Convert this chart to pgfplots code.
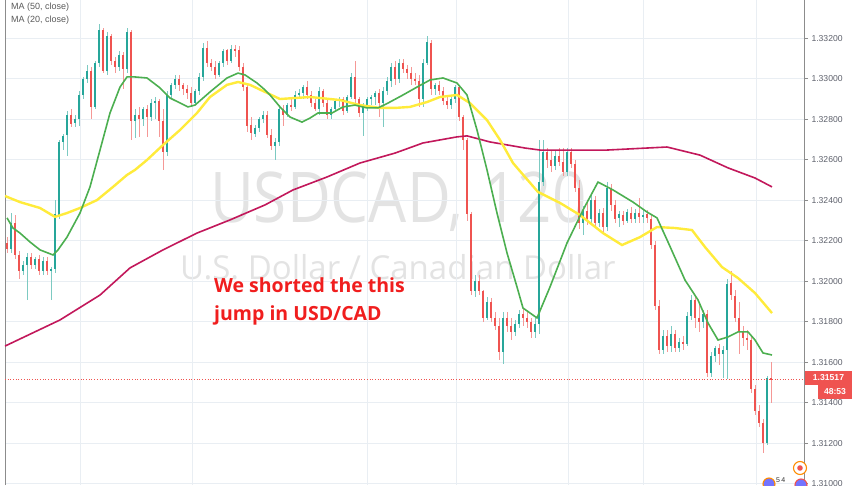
\documentclass[border=0pt]{standalone}
\usepackage{fontspec}
\setmainfont{Liberation Sans}
\newfontfamily\wmfont{Open Sans}
\usepackage{pgfplots}
\usepackage{pgfplotstable}
\pgfplotsset{compat=1.18}

\definecolor{upc}{HTML}{26A69A}
\definecolor{dnc}{HTML}{EF5350}
\definecolor{maA}{HTML}{4CAF50}
\definecolor{maB}{HTML}{FFEB3B}
\definecolor{maC}{HTML}{C2185B}
\definecolor{gridc}{HTML}{E9EEF3}
\definecolor{labc}{HTML}{5D606B}
\definecolor{annc}{HTML}{F01E1E}

% 2h candles: index, open, high, low, close
\pgfplotstableread{
x o h l c
0 1.3219 1.3222 1.3214 1.3216
1 1.3216 1.3234 1.3214 1.3229
2 1.3229 1.3233 1.3211 1.3213
3 1.3213 1.3215 1.3201 1.3205
4 1.3205 1.3210 1.3203 1.3208
5 1.3208 1.3214 1.3191 1.3212
6 1.3212 1.3214 1.3206 1.3208
7 1.3208 1.3212 1.3206 1.3211
8 1.3211 1.3213 1.3203 1.3205
9 1.3205 1.3212 1.3203 1.3210
10 1.3210 1.3212 1.3203 1.3205
11 1.3205 1.3207 1.3191 1.3206
12 1.3206 1.3240 1.3204 1.3233
13 1.3233 1.3270 1.3231 1.3269
14 1.3269 1.3273 1.3265 1.3272
15 1.3272 1.3284 1.3262 1.3282
16 1.3282 1.3285 1.3276 1.3278
17 1.3278 1.3282 1.3276 1.3280
18 1.3280 1.3294 1.3277 1.3292
19 1.3292 1.3301 1.3290 1.3300
20 1.3300 1.3307 1.3298 1.3304
21 1.3304 1.3306 1.3280 1.3286
22 1.3286 1.3309 1.3285 1.3308
23 1.3308 1.3327 1.3306 1.3324
24 1.3324 1.3325 1.3303 1.3304
25 1.3304 1.3323 1.3302 1.3321
26 1.3321 1.3322 1.3307 1.3309
27 1.3309 1.3311 1.3303 1.3306
28 1.3306 1.3314 1.3304 1.3312
29 1.3312 1.3313 1.3295 1.3305
30 1.3305 1.3325 1.3303 1.3323
31 1.3323 1.3324 1.3270 1.3279
32 1.3279 1.3285 1.3271 1.3282
33 1.3282 1.3286 1.3271 1.3280
34 1.3280 1.3286 1.3277 1.3285
35 1.3285 1.3287 1.3271 1.3281
36 1.3281 1.3290 1.3279 1.3288
37 1.3288 1.3291 1.3280 1.3289
38 1.3289 1.3290 1.3271 1.3279
39 1.3279 1.3285 1.3255 1.3264
40 1.3264 1.3294 1.3262 1.3292
41 1.3292 1.3298 1.3290 1.3297
42 1.3297 1.3302 1.3295 1.3300
43 1.3300 1.3302 1.3294 1.3297
44 1.3297 1.3298 1.3292 1.3295
45 1.3295 1.3297 1.3290 1.3293
46 1.3293 1.3296 1.3286 1.3288
47 1.3288 1.3295 1.3287 1.3294
48 1.3294 1.3303 1.3292 1.3301
49 1.3301 1.3318 1.3299 1.3315
50 1.3315 1.3319 1.3306 1.3308
51 1.3308 1.3310 1.3304 1.3306
52 1.3306 1.3309 1.3300 1.3302
53 1.3302 1.3309 1.3301 1.3308
54 1.3308 1.3315 1.3306 1.3314
55 1.3314 1.3315 1.3307 1.3309
56 1.3309 1.3317 1.3308 1.3315
57 1.3315 1.3317 1.3311 1.3314
58 1.3314 1.3316 1.3304 1.3306
59 1.3306 1.3308 1.3294 1.3296
60 1.3296 1.3297 1.3274 1.3277
61 1.3277 1.3281 1.3270 1.3273
62 1.3273 1.3277 1.3271 1.3276
63 1.3276 1.3281 1.3274 1.3280
64 1.3280 1.3284 1.3278 1.3282
65 1.3282 1.3284 1.3271 1.3272
66 1.3272 1.3275 1.3265 1.3267
67 1.3267 1.3271 1.3260 1.3269
68 1.3269 1.3287 1.3267 1.3285
69 1.3285 1.3287 1.3277 1.3282
70 1.3282 1.3288 1.3281 1.3287
71 1.3287 1.3290 1.3284 1.3286
72 1.3286 1.3294 1.3285 1.3292
73 1.3292 1.3295 1.3290 1.3293
74 1.3293 1.3297 1.3290 1.3296
75 1.3296 1.3299 1.3290 1.3292
76 1.3292 1.3294 1.3286 1.3288
77 1.3288 1.3290 1.3284 1.3285
78 1.3285 1.3296 1.3282 1.3294
79 1.3294 1.3295 1.3286 1.3288
80 1.3288 1.3290 1.3280 1.3282
81 1.3282 1.3286 1.3280 1.3285
82 1.3285 1.3290 1.3284 1.3289
83 1.3289 1.3291 1.3286 1.3290
84 1.3290 1.3291 1.3282 1.3284
85 1.3284 1.3292 1.3283 1.3291
86 1.3291 1.3303 1.3290 1.3301
87 1.3301 1.3309 1.3288 1.3290
88 1.3290 1.3291 1.3281 1.3283
89 1.3283 1.3288 1.3272 1.3286
90 1.3286 1.3291 1.3284 1.3290
91 1.3290 1.3292 1.3287 1.3291
92 1.3291 1.3294 1.3287 1.3293
93 1.3293 1.3295 1.3281 1.3288
94 1.3288 1.3296 1.3276 1.3294
95 1.3294 1.3301 1.3292 1.3299
96 1.3299 1.3308 1.3296 1.3306
97 1.3306 1.3309 1.3297 1.3300
98 1.3300 1.3310 1.3298 1.3308
99 1.3308 1.3310 1.3303 1.3305
100 1.3305 1.3307 1.3300 1.3303
101 1.3303 1.3306 1.3297 1.3300
102 1.3300 1.3303 1.3297 1.3299
103 1.3299 1.3302 1.3286 1.3290
104 1.3290 1.3310 1.3286 1.3308
105 1.3308 1.3321 1.3307 1.3318
106 1.3318 1.3319 1.3292 1.3295
107 1.3295 1.3298 1.3292 1.3297
108 1.3297 1.3299 1.3292 1.3294
109 1.3294 1.3296 1.3287 1.3289
110 1.3289 1.3292 1.3285 1.3287
111 1.3287 1.3292 1.3285 1.3290
112 1.3290 1.3297 1.3288 1.3296
113 1.3296 1.3297 1.3279 1.3281
114 1.3281 1.3282 1.3265 1.3270
115 1.3270 1.3271 1.3230 1.3233
116 1.3233 1.3234 1.3193 1.3195
117 1.3195 1.3203 1.3192 1.3200
118 1.3200 1.3203 1.3193 1.3195
119 1.3195 1.3196 1.3180 1.3182
120 1.3182 1.3192 1.3181 1.3190
121 1.3190 1.3192 1.3180 1.3182
122 1.3182 1.3185 1.3176 1.3178
123 1.3178 1.3182 1.3161 1.3165
124 1.3165 1.3185 1.3159 1.3182
125 1.3182 1.3185 1.3175 1.3178
126 1.3178 1.3182 1.3171 1.3175
127 1.3175 1.3181 1.3173 1.3179
128 1.3179 1.3186 1.3177 1.3184
129 1.3184 1.3187 1.3178 1.3182
130 1.3182 1.3185 1.3177 1.3180
131 1.3180 1.3182 1.3172 1.3175
132 1.3175 1.3182 1.3172 1.3179
133 1.3179 1.3270 1.3174 1.3249
134 1.3249 1.3270 1.3247 1.3264
135 1.3264 1.3266 1.3256 1.3260
136 1.3260 1.3265 1.3254 1.3257
137 1.3257 1.3265 1.3255 1.3262
138 1.3262 1.3266 1.3257 1.3259
139 1.3259 1.3266 1.3252 1.3254
140 1.3254 1.3266 1.3252 1.3264
141 1.3264 1.3266 1.3256 1.3258
142 1.3258 1.3260 1.3244 1.3246
143 1.3246 1.3250 1.3226 1.3229
144 1.3229 1.3237 1.3223 1.3235
145 1.3235 1.3240 1.3228 1.3231
146 1.3231 1.3243 1.3229 1.3240
147 1.3240 1.3242 1.3227 1.3229
148 1.3229 1.3236 1.3227 1.3234
149 1.3234 1.3236 1.3224 1.3227
150 1.3227 1.3249 1.3225 1.3246
151 1.3246 1.3248 1.3235 1.3238
152 1.3238 1.3240 1.3229 1.3231
153 1.3231 1.3235 1.3227 1.3233
154 1.3233 1.3235 1.3228 1.3230
155 1.3230 1.3236 1.3229 1.3234
156 1.3234 1.3237 1.3229 1.3231
157 1.3231 1.3236 1.3229 1.3234
158 1.3234 1.3241 1.3229 1.3232
159 1.3232 1.3235 1.3229 1.3233
160 1.3233 1.3235 1.3229 1.3231
161 1.3231 1.3233 1.3216 1.3218
162 1.3218 1.3220 1.3186 1.3188
163 1.3188 1.3191 1.3164 1.3166
164 1.3166 1.3176 1.3164 1.3173
165 1.3173 1.3176 1.3165 1.3168
166 1.3168 1.3178 1.3165 1.3174
167 1.3174 1.3176 1.3165 1.3167
168 1.3167 1.3172 1.3165 1.3170
169 1.3170 1.3173 1.3166 1.3169
170 1.3169 1.3185 1.3168 1.3183
171 1.3183 1.3193 1.3181 1.3191
172 1.3191 1.3193 1.3177 1.3182
173 1.3182 1.3190 1.3175 1.3180
174 1.3180 1.3186 1.3177 1.3184
175 1.3184 1.3186 1.3153 1.3155
176 1.3155 1.3165 1.3153 1.3163
177 1.3163 1.3168 1.3160 1.3167
178 1.3167 1.3169 1.3159 1.3164
179 1.3164 1.3168 1.3152 1.3166
180 1.3166 1.3201 1.3152 1.3199
181 1.3199 1.3205 1.3191 1.3193
182 1.3193 1.3196 1.3180 1.3182
183 1.3182 1.3190 1.3164 1.3175
184 1.3175 1.3178 1.3168 1.3172
185 1.3172 1.3176 1.3166 1.3171
186 1.3171 1.3173 1.3145 1.3147
187 1.3147 1.3149 1.3134 1.3136
188 1.3136 1.3139 1.3128 1.3130
189 1.3130 1.3132 1.3115 1.3120
190 1.3120 1.3153 1.3119 1.3152
191 1.31523 1.3160 1.3140 1.31517
}\candles

\pgfplotsset{
  candle/.style 2 args={only marks, mark=*, mark size=0.01pt,
    mark options={draw opacity=0, fill opacity=0},
    error bars/y dir=both, error bars/y explicit, error bars/error mark=none,
    error bars/error bar style={line width=#1, color=#2}},
}

\begin{document}
\begin{tikzpicture}
\useasboundingbox (0,0) rectangle (852pt,485pt);

% watermark (behind the plot)
\node[anchor=base west, text=black!11, inner sep=0, xscale=0.86,
  font=\wmfont\fontsize{70}{70}\selectfont] at (210pt,262pt) {USDCAD,\,\,120};
\node[anchor=base west, text=black!11, inner sep=0,
  font=\wmfont\fontsize{33}{33}\selectfont] at (180pt,205pt) {U.S. Dollar / Canadian Dollar};

\begin{axis}[
  at={(5pt,0pt)}, anchor=south west,
  scale only axis, width=799pt, height=485pt,
  xmin=-0.5, xmax=199.25,
  ymin=1.30994, ymax=1.33389,
  separate axis lines,
  x axis line style={draw=none},
  y axis line style={draw=black!45, line width=0.8pt},
  xtick={18.25,46.25,90,112.25,140.25,159,187.25},
  xticklabels={},
  major x tick style={draw=none},
  ytick={1.310,1.312,1.314,1.316,1.318,1.320,1.322,1.324,1.326,1.328,1.330,1.332},
  ytick pos=right, yticklabel pos=right,
  tick align=outside, major tick length=4pt,
  major y tick style={draw=black!45, line width=0.6pt},
  xmajorgrids, ymajorgrids,
  grid style={gridc, line width=0.8pt},
  yticklabel style={font=\fontsize{8.6}{10}\selectfont, text=labc,
    /pgf/number format/fixed, /pgf/number format/precision=5,
    /pgf/number format/fixed zerofill,
    /pgf/number format/assume math mode=true},
  clip=true,
]

% wicks
\addplot[candle={0.8pt}{upc!60}, restrict expr to domain={\thisrow{c}-\thisrow{o}}{0:1}]
  table[x=x, y expr={(\thisrow{h}+\thisrow{l})/2}, y error expr={(\thisrow{h}-\thisrow{l})/2}] {\candles};
\addplot[candle={0.8pt}{dnc!60}, restrict expr to domain={\thisrow{c}-\thisrow{o}}{-1:0}]
  table[x=x, y expr={(\thisrow{h}+\thisrow{l})/2}, y error expr={(\thisrow{h}-\thisrow{l})/2}] {\candles};
% bodies
\addplot[candle={2.6pt}{upc}, restrict expr to domain={\thisrow{c}-\thisrow{o}}{0:1}]
  table[x=x, y expr={(\thisrow{o}+\thisrow{c})/2}, y error expr={max(abs(\thisrow{c}-\thisrow{o})/2,0.000015)}] {\candles};
\addplot[candle={2.6pt}{dnc}, restrict expr to domain={\thisrow{c}-\thisrow{o}}{-1:0}]
  table[x=x, y expr={(\thisrow{o}+\thisrow{c})/2}, y error expr={max(abs(\thisrow{c}-\thisrow{o})/2,0.000015)}] {\candles};

% long moving average
\addplot[maC, line width=1.6pt] coordinates {
(-0.5,1.31680) (13.25,1.31809) (23.25,1.31932) (30.75,1.32066) (39,1.32155)
(47.5,1.32238) (55.75,1.32303) (64.5,1.32377) (71.5,1.32451) (80,1.32515)
(88.25,1.32584) (97,1.32633) (104,1.32683) (112.5,1.32713) (115,1.32718)
(120.75,1.32688) (129.5,1.32658) (133.25,1.32648) (150,1.32648) (165,1.32663)
(173.25,1.32623) (180.25,1.32560) (187,1.32510) (191.25,1.32466)
};
% MA 50
\addplot[maB, line width=2.4pt] coordinates {
(-0.5,1.32421) (3.25,1.32391) (8.25,1.32362) (12,1.32318) (15,1.32337)
(18.25,1.32362) (22.5,1.32401) (26.5,1.32466) (30,1.32525) (32,1.32550)
(35,1.32599) (39,1.32673) (43.25,1.32747) (47.5,1.32831) (50.75,1.32910)
(55,1.32970) (57.75,1.32984) (60.75,1.32970) (64.5,1.32935) (68.25,1.32900)
(75.75,1.32910) (83.25,1.32895) (88.25,1.32870) (93.25,1.32856) (97,1.32856)
(100.75,1.32861) (105,1.32885) (108.25,1.32910) (112.5,1.32920) (115.75,1.32880)
(120,1.32796) (123.25,1.32698) (126.5,1.32584) (129.5,1.32515) (132.75,1.32441)
(138.25,1.32387) (143.25,1.32327) (149,1.32238) (153.75,1.32179) (158.25,1.32218)
(162.5,1.32268) (167,1.32263) (171.25,1.32253) (174.5,1.32169) (178.75,1.32070)
(182.75,1.32016) (187,1.31942) (191.25,1.31843)
};
% MA 20
\addplot[maA, line width=1.6pt] coordinates {
(0,1.32313) (1.5,1.32263) (3.25,1.32238) (5.75,1.32194) (8.25,1.32155)
(11.5,1.32130) (12.75,1.32155) (15,1.32218) (18.25,1.32337) (20.75,1.32466)
(23.25,1.32648) (25.75,1.32831) (28.25,1.32959) (30,1.33009) (32,1.33009)
(35,1.33004) (38.25,1.32955) (40.75,1.32905) (45.25,1.32861) (47,1.32870)
(50.75,1.32935) (55,1.33004) (57.75,1.33028) (59.5,1.33019) (62.5,1.32979)
(64.5,1.32945) (65.75,1.32920) (68.25,1.32861) (70.75,1.32811) (73.75,1.32786)
(75.75,1.32806) (77.75,1.32831) (81.25,1.32831) (84,1.32861) (87,1.32870)
(90,1.32856) (92.75,1.32856) (95.25,1.32880) (99,1.32920) (102.5,1.32959)
(105.75,1.32994) (109,1.33004) (112.5,1.32979) (115,1.32920) (117.5,1.32747)
(120,1.32550) (122.5,1.32337) (125,1.32140) (127.5,1.31972) (129,1.31868)
(132.5,1.31819) (135.75,1.31972) (140,1.32189) (144,1.32352) (147.75,1.32490)
(151.5,1.32451) (156.5,1.32391) (160,1.32342) (162.5,1.32313) (165.25,1.32194)
(169.5,1.32006) (172.75,1.31908) (175.25,1.31794) (177.75,1.31710) (180.25,1.31725)
(182.75,1.31750) (185.25,1.31750) (187,1.31710) (189,1.31646) (191.25,1.31636)
};

\draw[dnc, dotted, line width=0.7pt] (axis cs:-0.5,1.31517) -- (axis cs:199.25,1.31517);
\end{axis}

% annotation
\node[anchor=base west, text=annc, inner sep=0,
  font=\wmfont\bfseries\fontsize{19.5}{19.5}\selectfont] at (214pt,192pt) {We shorted the this};
\node[anchor=base west, text=annc, inner sep=0,
  font=\wmfont\bfseries\fontsize{19.5}{19.5}\selectfont] at (214pt,164pt) {jump in USD/CAD};

% indicator legend
\node[anchor=west, inner sep=0, text=black!65, font=\fontsize{9}{9}\selectfont] at (11pt,478pt) {MA (50, close)};
\node[anchor=west, inner sep=0, text=black!65, font=\fontsize{9}{9}\selectfont] at (11pt,465pt) {MA (20, close)};

% last price labels
\node[fill=dnc, text=white, inner sep=0, minimum width=47pt, minimum height=14pt,
  font=\bfseries\fontsize{8.6}{9}\selectfont] at (828.5pt,107pt) {1.31517};
\node[fill=dnc, text=white, inner sep=0, minimum width=34pt, minimum height=14pt,
  font=\bfseries\fontsize{8.6}{9}\selectfont] at (835pt,93pt) {48:53};

% event icons along the bottom
\filldraw[draw=orange!90!yellow, fill=white, line width=1.1pt] (800pt,17pt) circle (6.5pt);
\fill[dnc] (800pt,17pt) circle (2.8pt);
\filldraw[draw=orange!90!yellow, fill=blue!55, line width=1.1pt] (769pt,1pt) circle (6pt);
\filldraw[draw=dnc, fill=blue!55, line width=1.1pt] (801pt,0pt) circle (6pt);
\node[anchor=west, inner sep=0, font=\fontsize{7}{7}\selectfont, text=black!80] at (776pt,5pt) {5\,4};
\end{tikzpicture}
\end{document}
